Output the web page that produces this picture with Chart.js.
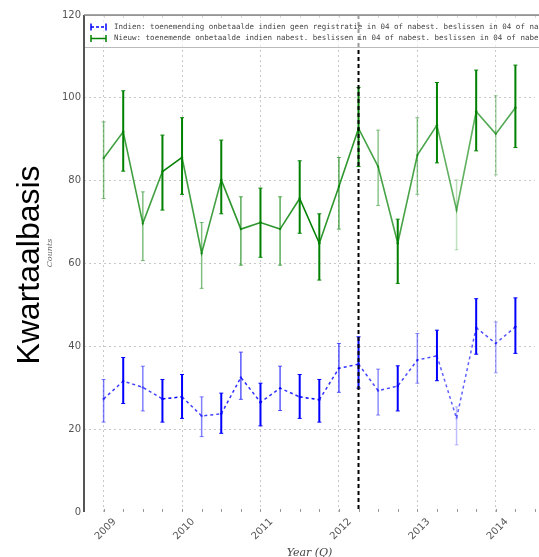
<!DOCTYPE html>
<html>
<head>
<meta charset="utf-8">
<script src="https://cdn.jsdelivr.net/npm/chart.js@4.4.1/dist/chart.umd.min.js"></script>
<style>
  body { margin: 0; background: #fff; overflow: hidden; }
  #wrap { width: 539px; height: 557px; }
</style>
</head>
<body>
<div id="wrap"><canvas id="chart"></canvas></div>
<script>
// quarterly positions (year + quarter fraction)
const quarters = [2009, 2009.25, 2009.5, 2009.75, 2010, 2010.25, 2010.5, 2010.75,
    2011, 2011.25, 2011.5, 2011.75, 2012, 2012.25, 2012.5, 2012.75,
    2013, 2013.25, 2013.5, 2013.75, 2014, 2014.25];

const greenValues = [85.4, 91.8, 69.7, 82.2, 85.6, 62.5, 80.2, 68.3, 69.9, 68.3, 75.7,
    64.9, 78.6, 92.6, 83.4, 64.9, 86.2, 93.4, 72.9, 96.7, 91.3, 97.6];
const greenLow = [75.7, 82.3, 60.7, 72.9, 76.7, 54, 72, 59.6, 61.5, 59.6, 67.3,
    56, 68.3, 83.4, 74, 55.2, 76.7, 84.3, 63.3, 87.2, 81.4, 88];
const greenHigh = [94.2, 101.7, 77.3, 91, 95.2, 69.9, 89.8, 76.1, 78.2, 76.1, 84.8,
    72, 85.6, 102.5, 92.2, 70.7, 95.2, 103.7, 80.2, 106.7, 100.5, 107.9];

const blueValues = [27.3, 31.6, 30.1, 27.3, 27.8, 23.2, 23.7, 32.5, 26.5, 29.9, 27.8,
    27.1, 34.7, 35.7, 29.3, 30.4, 36.7, 37.7, 22.6, 44.5, 40.7, 44.7];
const blueLow = [21.7, 26.2, 24.4, 21.7, 22.6, 18.2, 19, 27.2, 20.8, 24.5, 22.6,
    21.7, 28.9, 29.9, 23.4, 24.4, 31.1, 31.7, 16.2, 38.1, 33.6, 38.3];
const blueHigh = [32, 37.3, 35.2, 32, 33.2, 27.8, 28.7, 38.6, 31.1, 35.2, 33.2,
    32, 40.7, 42.3, 34.5, 35.3, 43.1, 43.9, 25.4, 51.5, 45.9, 51.7];

// how solid each quarter is drawn
const quarterOpacity = [0.5, 1, 0.5, 1, 1, 0.5, 1, 0.65, 1, 0.65, 1,
    1, 0.65, 1, 0.45, 1, 0.45, 1, 0.25, 1, 0.35, 1];

const yTicks = [0, 20, 40, 60, 80, 100, 120];
const eventQuarter = 2012.25;

const legendLabels = [
    "Indien: toenemending onbetaalde indien geen registratie in 04 of nabest. beslissen in 04 of nabest.",
    "Nieuw: toenemende onbetaalde indien nabest. beslissen in 04 of nabest. beslissen in 04 of nabest."
];
const mainTitle = "Kwartaalbasis";
const yTitle = "Counts";
const xTitle = "Year (Q)";

const GREEN = "0,128,0";
const BLUE = "0,0,255";

function rgba(rgb, a) {
    return `rgba(${rgb},${a})`;
}

function segColor(rgb) {
    return ctx => rgba(rgb, (quarterOpacity[ctx.p0DataIndex] + quarterOpacity[ctx.p1DataIndex]) / 2);
}

const overlay = {
    id: "overlay",
    afterDatasetsDraw(chart) {
        const { ctx, chartArea: area, scales: { x, y } } = chart;

        function drawBars(low, high, rgb) {
            quarters.forEach((q, i) => {
                const px = x.getPixelForValue(q);
                const top = y.getPixelForValue(high[i]);
                const bot = y.getPixelForValue(low[i]);
                ctx.save();
                ctx.strokeStyle = rgba(rgb, quarterOpacity[i]);
                ctx.lineWidth = quarterOpacity[i] === 1 ? 2 : 1.5;
                ctx.beginPath();
                ctx.moveTo(px, top);
                ctx.lineTo(px, bot);
                ctx.stroke();
                ctx.lineWidth = 1;
                ctx.beginPath();
                ctx.moveTo(px - 2, top);
                ctx.lineTo(px + 2, top);
                ctx.moveTo(px - 2, bot);
                ctx.lineTo(px + 2, bot);
                ctx.stroke();
                ctx.restore();
            });
        }
        drawBars(greenLow, greenHigh, GREEN);
        drawBars(blueLow, blueHigh, BLUE);

        // event marker
        const ex = x.getPixelForValue(eventQuarter);
        ctx.save();
        ctx.strokeStyle = "#000";
        ctx.lineWidth = 2;
        ctx.setLineDash([4, 3]);
        ctx.beginPath();
        ctx.moveTo(ex, area.top);
        ctx.lineTo(ex, area.bottom);
        ctx.stroke();
        ctx.restore();

        // minor ticks
        ctx.save();
        ctx.strokeStyle = "#999";
        ctx.lineWidth = 1;
        x.ticks.forEach(t => {
            const px = Math.round(x.getPixelForValue(t.value)) + 0.5;
            ctx.beginPath();
            ctx.moveTo(px, area.bottom);
            ctx.lineTo(px, area.bottom - 3);
            ctx.moveTo(px, area.top);
            ctx.lineTo(px, area.top + 3);
            ctx.stroke();
        });
        ctx.restore();

        // legend
        ctx.save();
        const lx = area.left, ly = area.top, lh = 32;
        ctx.fillStyle = "rgba(255,255,255,0.6)";
        ctx.fillRect(lx, ly, area.right - lx + 10, lh);
        ctx.strokeStyle = "#bbb";
        ctx.lineWidth = 1;
        ctx.strokeRect(lx + 0.5, ly + 0.5, area.right - lx + 10, lh);
        const entries = [[BLUE, true], [GREEN, false]];
        entries.forEach(([rgb, dashed], i) => {
            const cy = ly + 12 + i * 11.5;
            ctx.strokeStyle = rgba(rgb, 1);
            ctx.lineWidth = 1.5;
            ctx.setLineDash(dashed ? [3, 2] : []);
            ctx.beginPath();
            ctx.moveTo(lx + 7, cy);
            ctx.lineTo(lx + 22, cy);
            ctx.stroke();
            ctx.setLineDash([]);
            ctx.beginPath();
            ctx.moveTo(lx + 7, cy - 3.5);
            ctx.lineTo(lx + 7, cy + 3.5);
            ctx.moveTo(lx + 22, cy - 3.5);
            ctx.lineTo(lx + 22, cy + 3.5);
            ctx.stroke();
            ctx.fillStyle = "#444";
            ctx.font = '7.5px "DejaVu Sans Mono"';
            ctx.textBaseline = "middle";
            ctx.fillText(legendLabels[i], lx + 30, cy);
        });
        ctx.restore();

        // spines
        ctx.save();
        ctx.strokeStyle = "#555";
        ctx.lineWidth = 2;
        ctx.beginPath();
        ctx.moveTo(area.left, area.bottom);
        ctx.lineTo(area.left, area.top);
        ctx.stroke();
        ctx.strokeStyle = "#888";
        ctx.lineWidth = 1.5;
        ctx.beginPath();
        ctx.moveTo(area.left, area.top);
        ctx.lineTo(area.right + 10, area.top);
        ctx.stroke();
        ctx.restore();
    },
    afterDraw(chart) {
        const { ctx, chartArea: area } = chart;
        ctx.save();
        ctx.fillStyle = "#000";
        ctx.font = '32px "Liberation Sans"';
        ctx.textAlign = "center";
        ctx.textBaseline = "alphabetic";
        ctx.translate(39, 265);
        ctx.rotate(-Math.PI / 2);
        ctx.fillText(mainTitle, 0, 0);
        ctx.restore();

        ctx.save();
        ctx.fillStyle = "#666";
        ctx.font = 'italic 8px "DejaVu Serif"';
        ctx.textAlign = "center";
        ctx.textBaseline = "middle";
        ctx.translate(50, 253);
        ctx.rotate(-Math.PI / 2);
        ctx.fillText(yTitle, 0, 0);
        ctx.restore();

        ctx.save();
        ctx.fillStyle = "#444";
        ctx.font = 'italic 11px "DejaVu Serif"';
        ctx.textAlign = "center";
        ctx.textBaseline = "top";
        ctx.fillText(xTitle, (area.left + area.right) / 2, 548);
        ctx.restore();
    }
};

const chart = new Chart(document.getElementById("chart"), {
    type: "line",
    data: {
        datasets: [
            {
                label: "Nieuw",
                data: quarters.map((q, i) => ({ x: q, y: greenValues[i] })),
                borderColor: rgba(GREEN, 1),
                borderWidth: 1.6,
                pointRadius: 1.2,
                pointBackgroundColor: quarterOpacity.map(a => rgba(GREEN, a)),
                pointBorderWidth: 0,
                segment: { borderColor: segColor(GREEN) }
            },
            {
                label: "Indien",
                data: quarters.map((q, i) => ({ x: q, y: blueValues[i] })),
                borderColor: rgba(BLUE, 1),
                borderWidth: 1.5,
                borderDash: [3, 3],
                pointRadius: 1.2,
                pointBackgroundColor: quarterOpacity.map(a => rgba(BLUE, a)),
                pointBorderWidth: 0,
                segment: { borderColor: segColor(BLUE) }
            }
        ]
    },
    options: {
        responsive: true,
        maintainAspectRatio: false,
        animation: false,
        devicePixelRatio: 1,
        layout: { padding: { top: 15, right: 0, left: 0, bottom: 0 } },
        plugins: {
            legend: { display: false },
            tooltip: { enabled: false }
        },
        scales: {
            x: {
                type: "linear",
                min: 2008.75,
                max: 2014.5,
                afterFit: s => { s.height = 45; s.paddingLeft = 0; s.paddingRight = 0; },
                ticks: {
                    stepSize: 0.25,
                    autoSkip: false,
                    minRotation: 45,
                    maxRotation: 45,
                    labelOffset: 11,
                    padding: 4,
                    color: "#555",
                    font: { family: "DejaVu Sans", size: 10 },
                    callback: v => Number.isInteger(v) ? String(v) : ""
                },
                grid: {
                    drawTicks: false,
                    color: c => (c.tick && Number.isInteger(c.tick.value)) ? "#c8c8c8" : "rgba(0,0,0,0)"
                },
                border: { display: false, dash: [2, 3] }
            },
            y: {
                min: 0,
                max: 120,
                afterFit: s => { s.width = 84; s.paddingTop = 0; s.paddingBottom = 0; },
                afterBuildTicks: s => { s.ticks = yTicks.map(v => ({ value: v })); },
                ticks: {
                    padding: 3,
                    color: "#555",
                    font: { family: "DejaVu Sans", size: 10 }
                },
                grid: {
                    drawTicks: false,
                    color: c => (c.tick && c.tick.value > 0 && c.tick.value < 120) ? "#c8c8c8" : "rgba(0,0,0,0)"
                },
                border: { display: false, dash: [2, 3] }
            }
        }
    },
    plugins: [overlay]
});
</script>
</body>
</html>
